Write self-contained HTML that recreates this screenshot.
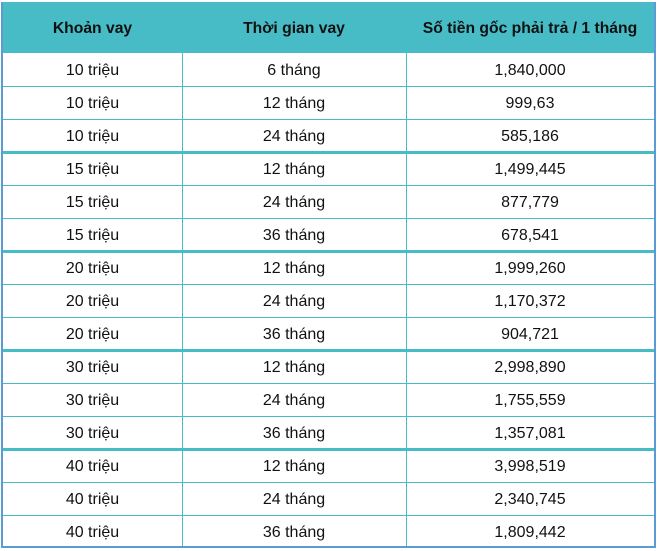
<!DOCTYPE html>
<html><head><meta charset="utf-8"><style>
body{margin:0;width:657px;height:551px;background:#fff;position:relative;overflow:hidden;font-family:"Liberation Sans",Arial,sans-serif;}
.wrap{position:absolute;left:1px;top:2px;width:651px;height:544px;border:2px solid #5b9bd5;border-top:none;}
.hd{position:absolute;left:0;top:0;width:651px;height:51px;background:#47bcc6;}
.c{position:absolute;text-align:center;font-size:16px;color:#111;}
.h{font-weight:bold;font-size:15.7px;color:#111;top:18px;}
.line{position:absolute;left:0;width:651px;background:#47bcc6;}
.v{position:absolute;width:1px;background:#47bcc6;top:51px;height:493px;}
</style></head><body>
<div class="wrap" id="w">
<div class="hd"></div>
<div class="c h" style="left:0;width:179px">Khoản vay</div>
<div class="c h" style="left:179px;width:224px">Thời gian vay</div>
<div class="c h" style="left:403px;width:248px">Số tiền gốc phải trả / 1 tháng</div>
<div class="v" style="left:179px"></div>
<div class="v" style="left:403px"></div>
</div>
<script>
var d=[["10 triệu","6 tháng","1,840,000"],["10 triệu","12 tháng","999,63"],["10 triệu","24 tháng","585,186"],
["15 triệu","12 tháng","1,499,445"],["15 triệu","24 tháng","877,779"],["15 triệu","36 tháng","678,541"],
["20 triệu","12 tháng","1,999,260"],["20 triệu","24 tháng","1,170,372"],["20 triệu","36 tháng","904,721"],
["30 triệu","12 tháng","2,998,890"],["30 triệu","24 tháng","1,755,559"],["30 triệu","36 tháng","1,357,081"],
["40 triệu","12 tháng","3,998,519"],["40 triệu","24 tháng","2,340,745"],["40 triệu","36 tháng","1,809,442"]];
var w=document.getElementById('w'),h='';
for(var i=0;i<15;i++){var y=51+i*33;
 if(i>0){var th=(i%3==0)?3:1;h+='<div class="line" style="top:'+(y-(th>1?1:0))+'px;height:'+th+'px"></div>';}
 var l=[[0,179],[179,224],[403,248]];
 for(var j=0;j<3;j++)h+='<div class="c" style="left:'+l[j][0]+'px;width:'+l[j][1]+'px;top:'+(y+9)+'px">'+d[i][j]+'</div>';}
w.insertAdjacentHTML('beforeend',h);
</script>
</body></html>
